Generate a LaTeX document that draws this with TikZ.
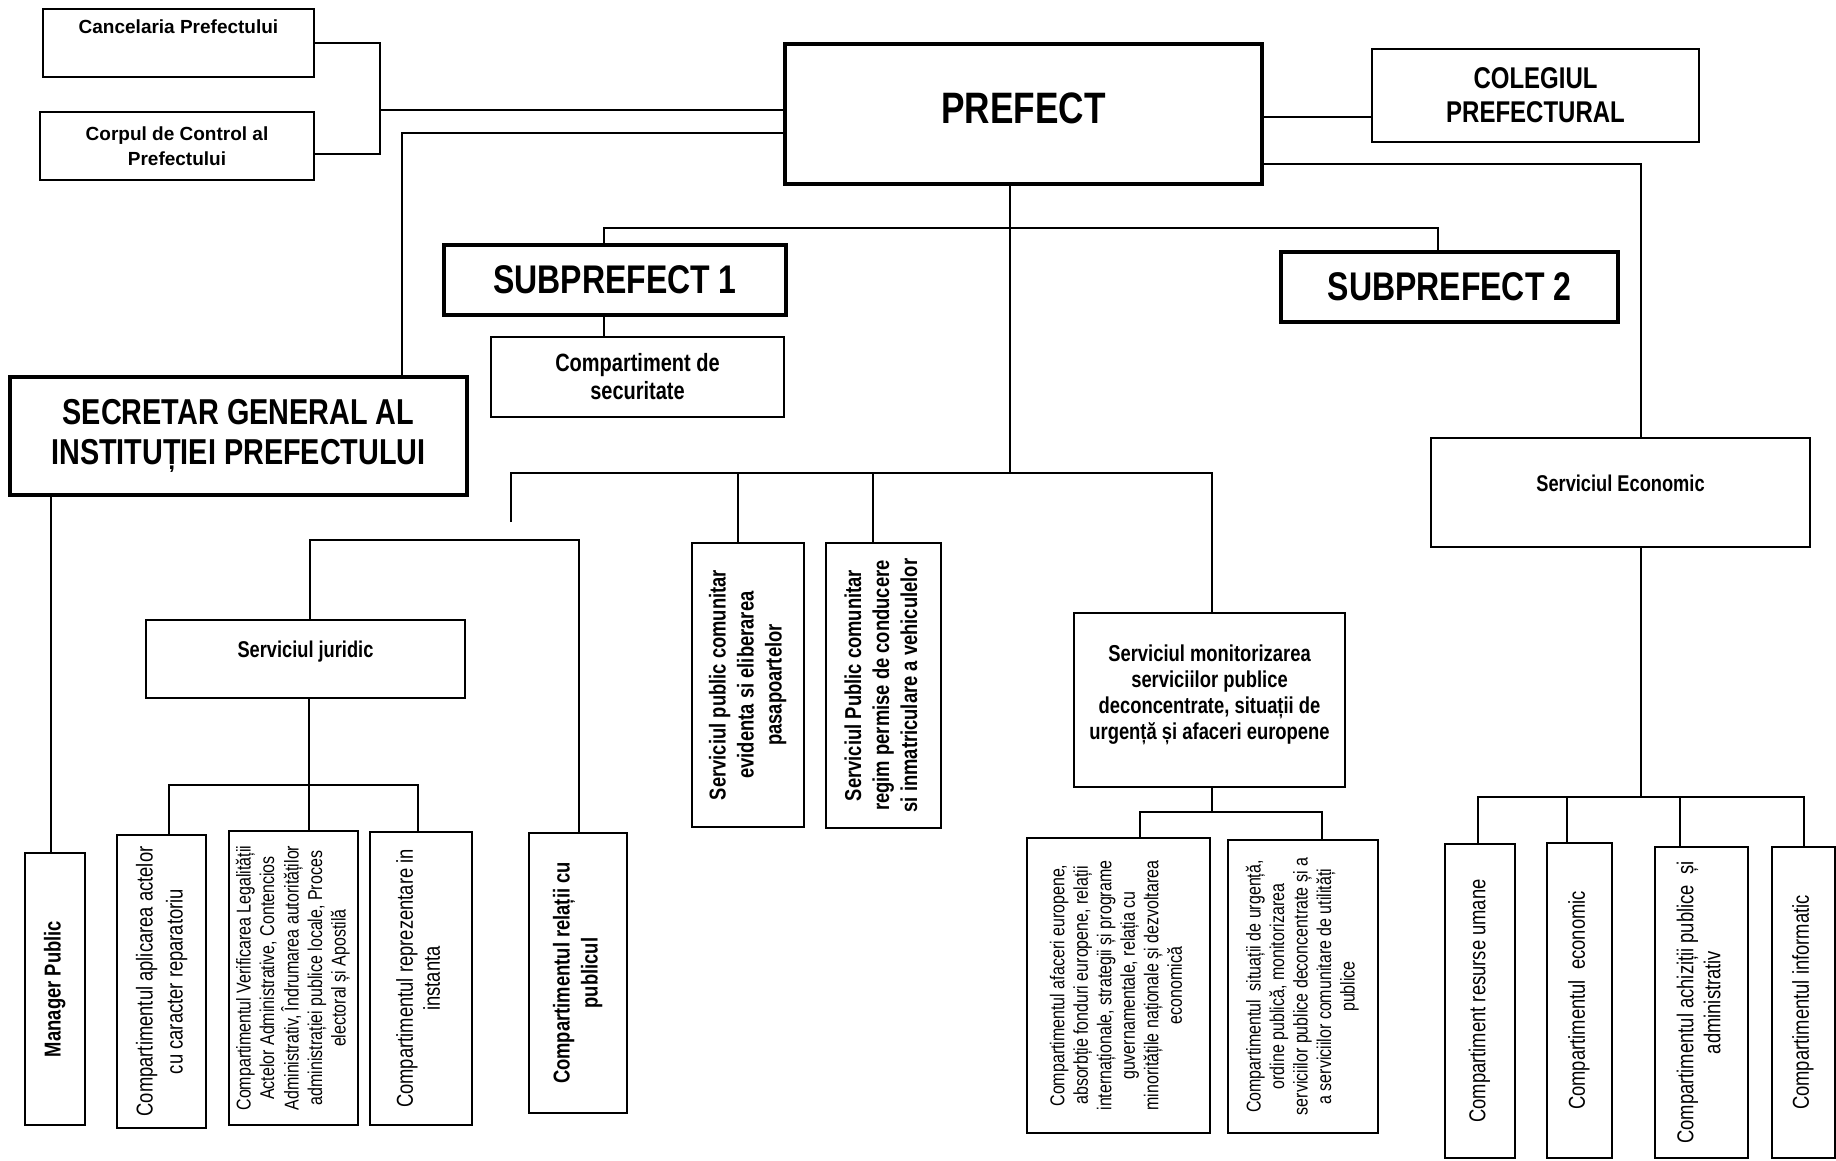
\documentclass[tikz,border=0pt]{standalone}
\usepackage{fontspec}
\setmainfont{Liberation Sans}
\newfontfamily\nar[FakeStretch=0.8]{Liberation Sans}
\usepackage{graphicx}
\newcommand\vtxt[1]{\rotatebox{90}{\begin{tabular}{@{}c@{}}#1\end{tabular}}}
\newcommand\setfs[2]{\fontsize{#1}{#2}\selectfont}
\begin{document}
\begin{tikzpicture}[x=1pt,y=-1pt,
  box/.style={draw, line width=2pt, inner sep=0pt, align=center},
  tbox/.style={draw, line width=4pt, inner sep=0pt, align=center},
  conn/.style={line width=1.4pt},
  vreg/.style={box, font=\nar\setfs{23}{27}},
  vsm/.style={box, font=\nar\setfs{20}{23.5}},
  vbold/.style={box, font=\nar\bfseries\setfs{23}{28}}]
\path[use as bounding box] (0,0) rectangle (1836,1160);

% top left
\node[box, minimum width=271pt, minimum height=68pt,
  label={[font=\bfseries\setfs{19}{22}, anchor=north, inner sep=0pt, yshift=-12pt]north:Cancelaria Prefectului}] (canc) at (178.5,43) {};
\node[box, minimum width=274pt, minimum height=68pt, font=\bfseries\setfs{19}{25}] (corp) at (177,146) {Corpul de Control al\\Prefectului};

% prefect
\node[tbox, minimum width=477pt, minimum height=140pt,
  label={[font=\nar\bfseries\setfs{44}{50}, yshift=6pt]center:PREFECT}] (prefect) at (1023.5,114) {};
\node[box, minimum width=327pt, minimum height=93pt, font=\nar\bfseries\setfs{30}{34}] (coleg) at (1535.5,95.5) {COLEGIUL\\PREFECTURAL};

% subprefects
\node[tbox, minimum width=342pt, minimum height=70pt, font=\nar\bfseries\setfs{40}{44}] (sub1) at (615,280) {SUBPREFECT 1};
\node[box, minimum width=293pt, minimum height=80pt, font=\nar\bfseries\setfs{25}{28}] (secur) at (637.5,377) {Compartiment de\\securitate};
\node[tbox, minimum width=337pt, minimum height=70pt, font=\nar\bfseries\setfs{40}{44}] (sub2) at (1449.5,287) {SUBPREFECT 2};

% secretar
\node[tbox, minimum width=457pt, minimum height=118pt, font=\nar\bfseries\setfs{36}{40}] (secr) at (238.5,436) {SECRETAR GENERAL AL\\INSTITUȚIEI PREFECTULUI};

% services
\node[box, minimum width=379pt, minimum height=109pt,
  label={[font=\nar\bfseries\setfs{22.8}{26}, yshift=9.5pt]center:Serviciul Economic}] (econ) at (1620.5,492.5) {};
\node[box, minimum width=319pt, minimum height=78pt,
  label={[font=\nar\bfseries\setfs{22.8}{26}, yshift=7pt]center:Serviciul juridic}] (jurid) at (305.5,659) {};
\node[vbold, minimum width=112pt, minimum height=284pt] (b11) at (748,685) {\vtxt{Serviciul public comunitar\\evidenta si eliberarea\\pasapoartelor}};
\node[vbold, minimum width=115pt, minimum height=285pt] (b12) at (883.5,685.5) {\vtxt{Serviciul Public comunitar\\regim permise de conducere\\si inmatriculare a vehiculelor}};
\node[box, minimum width=271pt, minimum height=174pt,
  label={[font=\nar\bfseries\setfs{23}{26}, align=center, yshift=5pt]center:Serviciul monitorizarea\\serviciilor publice\\deconcentrate, situații de\\urgență și afaceri europene}] (monit) at (1209.5,700) {};

% bottom row
\node[vbold, minimum width=60pt, minimum height=272pt] (manager) at (55,989) {\vtxt{Manager Public}};
\node[box, font=\nar\setfs{23}{30}, minimum width=89pt, minimum height=293pt] (b15) at (161.5,981.5) {\vtxt{Compartimentul aplicarea actelor\\cu caracter reparatoriu}};
\node[vsm, minimum width=129pt, minimum height=294pt] (b16) at (293.5,978) {\vtxt{Compartimentul Verificarea Legalității\\Actelor Administrative, Contencios\\Administrativ, Îndrumarea autorităților\\administrației publice locale, Proces\\electoral și Apostilă}};
\node[vreg, minimum width=102pt, minimum height=293pt] (b17) at (421,978.5) {\vtxt{Compartimentul reprezentare in\\instanta}};
\node[vbold, minimum width=98pt, minimum height=280pt] (b18) at (578,973) {\vtxt{Compartimentul relații cu\\publicul}};
\node[vsm, minimum width=183pt, minimum height=295pt] (b19) at (1118.5,985.5) {\vtxt{Compartimentul afaceri europene,\\absorbție fonduri europene, relații\\internaționale, strategii și programe\\guvernamentale, relația cu\\minoritățile naționale și dezvoltarea\\economică}};
\node[vsm, minimum width=150pt, minimum height=293pt] (b20) at (1303,986.5) {\vtxt{Compartimentul\ \ situații de urgență,\\ordine publică, monitorizarea\\serviciilor publice deconcentrate și a\\a serviciilor comunitare de utilități\\publice}};
\node[vreg, minimum width=70pt, minimum height=314pt] (b21) at (1480,1001) {\vtxt{Compartiment resurse umane}};
\node[vreg, minimum width=65pt, minimum height=315pt] (b22) at (1579.5,1000.5) {\vtxt{Compartimentul\ \ economic}};
\node[vreg, minimum width=93pt, minimum height=311pt] (b23) at (1701.5,1002.5) {\vtxt{Compartimentul achiziții publice\ \ și\\administrativ}};
\node[vreg, minimum width=63pt, minimum height=311pt] (b24) at (1803.5,1002.5) {\vtxt{Compartimentul informatic}};

% junction coordinates
\coordinate (cj) at (380,154);
\coordinate (cp) at (380,110);
\coordinate (sx) at (402,0);
\coordinate (pv) at (1010,228);
\coordinate (mv) at (1010,473);
\coordinate (s1) at (604,228);
\coordinate (s2) at (1438,228);
\coordinate (m1) at (511,473);
\coordinate (m1e) at (511,522);
\coordinate (m2) at (738,473);
\coordinate (m3) at (873,473);
\coordinate (m4) at (1212,473);
\coordinate (l1) at (310,540);
\coordinate (l2) at (579,540);
\coordinate (jv) at (309,785);
\coordinate (ja) at (169,785);
\coordinate (jb) at (418,785);
\coordinate (sm) at (51,0);
\coordinate (mo) at (1212,812);
\coordinate (moa) at (1140,812);
\coordinate (mob) at (1322,812);
\coordinate (ev) at (1641,797);
\coordinate (e1) at (1478,797);
\coordinate (e2) at (1567,797);
\coordinate (e3) at (1680,797);
\coordinate (e4) at (1804,797);

% connectors
\draw[conn] (canc.east) -| (cj) -- (cj -| corp.east);
\draw[conn] (cp) -- (cp -| prefect.west);
\draw[conn] ([yshift=-19pt]prefect.west) -| (secr.north -| sx);
\draw[conn] ([yshift=-3pt]prefect.east) -- ([yshift=-3pt]prefect.east -| coleg.west);
\draw[conn] ([yshift=-50pt]prefect.east) -| ([xshift=20.5pt]econ.north);
\draw[conn] (prefect.south -| pv) -- (mv);
\draw[conn] (sub1.north -| s1) -- (s1) -- (s2) -- (sub2.north -| s2);
\draw[conn] (sub1.south -| s1) -- (secur.north -| s1);
\draw[conn] (m1e) -- (m1) -- (m4) -- (monit.north -| m4);
\draw[conn] (m2) -- (b11.north -| m2);
\draw[conn] (m3) -- (b12.north -| m3);
\draw[conn] (jurid.north -| l1) -- (l1) -- (l2) -- (b18.north -| l2);
\draw[conn] (jurid.south -| jv) -- (b16.north -| jv);
\draw[conn] (b15.north -| ja) -- (ja) -- (jb) -- (b17.north -| jb);
\draw[conn] (secr.south -| sm) -- (manager.north -| sm);
\draw[conn] (monit.south -| mo) -- (mo);
\draw[conn] (b19.north -| moa) -- (moa) -- (mob) -- (b20.north -| mob);
\draw[conn] (econ.south -| ev) -- (ev);
\draw[conn] (b21.north -| e1) -- (e1) -- (e4) -- (b24.north -| e4);
\draw[conn] (e2) -- (b22.north -| e2);
\draw[conn] (e3) -- (b23.north -| e3);
\end{tikzpicture}
\end{document}
